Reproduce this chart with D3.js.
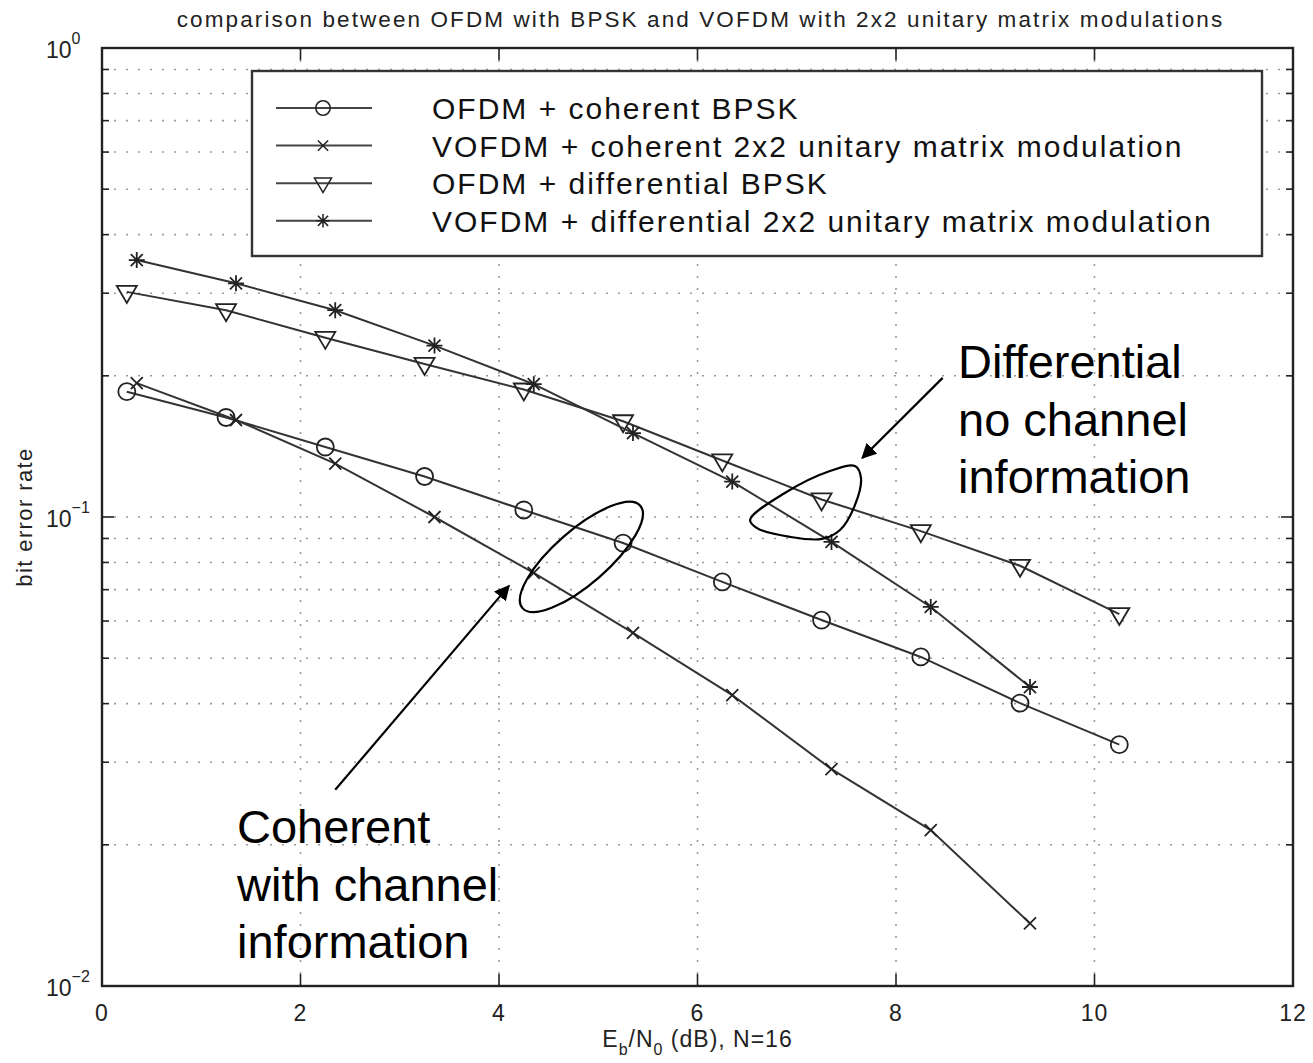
<!DOCTYPE html>
<html>
  <head>
    <title>OFDM vs VOFDM bit error rate</title>
    <script src="https://d3js.org/d3.v7.min.js"></script>
  </head>
  <style>
    body {
      margin: 0;
      background: #fff;
      font-family: 'Liberation Sans', Arial, Helvetica, sans-serif;
    }
    .grid line { stroke: #9a9a9a; stroke-width: 1.6; stroke-dasharray: 2,10; }
    .series path.line { fill: none; stroke: #333; stroke-width: 2; }
    .mark { fill: none; stroke: #222; stroke-width: 1.8; }
  </style>
  <body>
    <svg></svg>
    <script>

      // ---- data ----
      var snr_a = [0.25, 1.25, 2.25, 3.25, 4.25, 5.25, 6.25, 7.25, 8.25, 9.25, 10.25];
      var snr_b = [0.35, 1.35, 2.35, 3.35, 4.35, 5.35, 6.35, 7.35, 8.35, 9.35];

      var ofdmCoherent  = [0.185, 0.163, 0.141, 0.122, 0.1035, 0.088, 0.0727, 0.0603, 0.0503, 0.0401, 0.0327];
      var vofdmCoherent = [0.193, 0.161, 0.130, 0.100, 0.076, 0.0566, 0.0417, 0.0290, 0.0215, 0.0136];
      var ofdmDiff      = [0.302, 0.276, 0.241, 0.212, 0.187, 0.160, 0.132, 0.109, 0.0933, 0.0787, 0.0621];
      var vofdmDiff     = [0.353, 0.315, 0.276, 0.232, 0.192, 0.151, 0.119, 0.0885, 0.0643, 0.0434];

      var seriesNames = [
        'OFDM + coherent BPSK',
        'VOFDM + coherent 2x2 unitary matrix modulation',
        'OFDM + differential BPSK',
        'VOFDM + differential 2x2 unitary matrix modulation'
      ];
      var markerTypes = ['circle', 'cross', 'triangle', 'star'];

      var xTicks = [0, 2, 4, 6, 8, 10, 12];
      var yDecades = [1e-2, 1e-1, 1];
      var yExponents = ['0', '\u22121', '\u22122'];

      var titleText = 'comparison between OFDM with BPSK and VOFDM with 2x2 unitary matrix modulations';

      // annotation notes (data coordinates)
      var noteDiff = ['Differential', 'no channel', 'information'];
      var noteCoh = ['Coherent', 'with channel', 'information'];
      var arrowDiff = [[8.47, 0.198], [7.66, 0.1336]];
      var arrowCoh = [[2.35, 0.0262], [4.10, 0.0713]];
      var loopDiff = [[6.53, 0.0986], [6.88, 0.1125], [7.335, 0.1253], [7.587, 0.1284], [7.647, 0.1211],
                      [7.587, 0.1061], [7.436, 0.0938], [7.254, 0.0898], [6.932, 0.0907], [6.60, 0.0947]];
      var ellipseCoh = {cx: 4.83, cy: 0.0822};

      // ---- layout ----
      var width = 1313, height = 1063;
      var mLeft = 102, mRight = 1293, mTop = 48, mBottom = 986;

      var x = d3.scaleLinear().domain([0, 12]).range([mLeft, mRight]);
      var y = d3.scaleLog().domain([0.01, 1]).range([mBottom, mTop]);

      var svg = d3.select('svg')
        .attr('width', width)
        .attr('height', height);

      // grid
      var minor = [];
      [0.01, 0.1].forEach(function (d) {
        for (var k = 1; k <= 9; k++) minor.push(d * k);
      });
      var grid = svg.append('g').attr('class', 'grid');
      grid.selectAll('line.h')
        .data(minor.filter(function (d) { return d > 0.01; }))
        .enter().append('line')
        .attr('x1', mLeft).attr('x2', mRight)
        .attr('y1', function (d) { return y(d); })
        .attr('y2', function (d) { return y(d); });
      grid.selectAll('line.v')
        .data(xTicks.slice(1, -1))
        .enter().append('line')
        .attr('y1', mTop).attr('y2', mBottom)
        .attr('x1', function (d) { return x(d); })
        .attr('x2', function (d) { return x(d); });

      // axis frame + ticks (inside, on all four sides)
      var axes = svg.append('g').attr('stroke', '#222').attr('stroke-width', 1.6);
      xTicks.forEach(function (t) {
        axes.append('line').attr('x1', x(t)).attr('x2', x(t)).attr('y1', mBottom).attr('y2', mBottom - 12);
        axes.append('line').attr('x1', x(t)).attr('x2', x(t)).attr('y1', mTop).attr('y2', mTop + 12);
      });
      minor.concat([1]).forEach(function (t) {
        var len = yDecades.some(function (d) { return Math.abs(d - t) < 1e-9; }) ? 12 : 7;
        axes.append('line').attr('x1', mLeft).attr('x2', mLeft + len).attr('y1', y(t)).attr('y2', y(t));
        axes.append('line').attr('x1', mRight).attr('x2', mRight - len).attr('y1', y(t)).attr('y2', y(t));
      });
      svg.append('rect')
        .attr('x', mLeft).attr('y', mTop)
        .attr('width', mRight - mLeft).attr('height', mBottom - mTop)
        .attr('fill', 'none').attr('stroke', '#222').attr('stroke-width', 2.4);

      // tick labels
      svg.selectAll('text.xt')
        .data(xTicks)
        .enter().append('text')
        .attr('x', function (d) { return x(d); })
        .attr('y', mBottom + 35)
        .attr('text-anchor', 'middle')
        .attr('font-size', 23)
        .attr('letter-spacing', 1)
        .attr('fill', '#222')
        .text(function (d) { return d; });

      var yl = svg.selectAll('text.yt')
        .data([1, 0.1, 0.01])
        .enter().append('text')
        .attr('x', mLeft - 56)
        .attr('y', function (d) { return y(d) + 10; })
        .attr('font-size', 23)
        .attr('fill', '#222');
      yl.append('tspan').text('10');
      yl.append('tspan')
        .attr('dy', -14)
        .attr('font-size', 16)
        .text(function (d, i) { return yExponents[i]; });

      // title and axis labels
      svg.append('text')
        .attr('x', (mLeft + mRight) / 2 + 3)
        .attr('y', 27)
        .attr('text-anchor', 'middle')
        .attr('font-size', 22.5)
        .attr('letter-spacing', 2.1)
        .attr('fill', '#222')
        .text(titleText);

      svg.append('text')
        .attr('transform', 'translate(32,' + ((mTop + mBottom) / 2) + ')rotate(-90)')
        .attr('text-anchor', 'middle')
        .attr('font-size', 22)
        .attr('letter-spacing', 1.4)
        .attr('fill', '#222')
        .text('bit error rate');

      var xl = svg.append('text')
        .attr('x', (mLeft + mRight) / 2)
        .attr('y', 1047)
        .attr('text-anchor', 'middle')
        .attr('font-size', 23)
        .attr('letter-spacing', 1)
        .attr('fill', '#222');
      xl.append('tspan').text('E');
      xl.append('tspan').attr('dy', 8).attr('font-size', 16).text('b');
      xl.append('tspan').attr('dy', -8).text('/N');
      xl.append('tspan').attr('dy', 8).attr('font-size', 16).text('0');
      xl.append('tspan').attr('dy', -8).text(' (dB), N=16');

      // markers
      function markerPath(type) {
        var p = d3.path();
        if (type === 'circle') {
          p.moveTo(8.5, 0); p.arc(0, 0, 8.5, 0, 2 * Math.PI);
        } else if (type === 'cross') {
          p.moveTo(-6, -6); p.lineTo(6, 6); p.moveTo(-6, 6); p.lineTo(6, -6);
        } else if (type === 'triangle') {
          p.moveTo(-10, -6); p.lineTo(10, -6); p.lineTo(0, 11); p.closePath();
        } else {
          p.moveTo(-8, 0); p.lineTo(8, 0); p.moveTo(0, -8); p.lineTo(0, 8);
          p.moveTo(-6, -6); p.lineTo(6, 6); p.moveTo(-6, 6); p.lineTo(6, -6);
        }
        return p.toString();
      }

      var series = [
        {x: snr_a, v: ofdmCoherent},
        {x: snr_b, v: vofdmCoherent},
        {x: snr_a, v: ofdmDiff},
        {x: snr_b, v: vofdmDiff}
      ];

      var line = d3.line()
        .x(function (d) { return x(d[0]); })
        .y(function (d) { return y(d[1]); });

      series.forEach(function (s, i) {
        var pts = s.v.map(function (v, k) { return [s.x[k], v]; });
        var g = svg.append('g').attr('class', 'series');
        g.append('path').attr('class', 'line').attr('d', line(pts));
        g.selectAll('path.mark')
          .data(pts)
          .enter().append('path')
          .attr('class', 'mark')
          .attr('transform', function (d) { return 'translate(' + x(d[0]) + ',' + y(d[1]) + ')'; })
          .attr('d', markerPath(markerTypes[i]));
      });

      // legend
      var legend = svg.append('g').attr('transform', 'translate(252,71)');
      legend.append('rect')
        .attr('width', 1010).attr('height', 185)
        .attr('fill', '#fff').attr('stroke', '#333').attr('stroke-width', 2.4);
      var rows = legend.selectAll('g.row')
        .data(seriesNames)
        .enter().append('g')
        .attr('transform', function (d, i) { return 'translate(0,' + (37 + i * 37.6) + ')'; });
      rows.append('line')
        .attr('x1', 24).attr('x2', 120)
        .attr('stroke', '#444').attr('stroke-width', 2);
      rows.append('path')
        .attr('class', 'mark')
        .attr('transform', 'translate(71,0)scale(0.85)')
        .attr('d', function (d, i) { return markerPath(markerTypes[i]); });
      rows.append('text')
        .attr('x', 180)
        .attr('y', 11)
        .attr('font-size', 30)
        .attr('letter-spacing', 2)
        .attr('fill', '#111')
        .text(function (d) { return d; });

      // annotations
      var ann = svg.append('g').attr('fill', 'none').attr('stroke', '#000').attr('stroke-width', 2.2);

      svg.append('defs').append('marker')
        .attr('id', 'head')
        .attr('viewBox', '0 0 10 10')
        .attr('refX', 9).attr('refY', 5)
        .attr('markerWidth', 7).attr('markerHeight', 7)
        .attr('markerUnits', 'strokeWidth')
        .attr('orient', 'auto')
        .append('path').attr('d', 'M0,0L10,5L0,10Z').attr('fill', '#000').attr('stroke', 'none');

      [arrowDiff, arrowCoh].forEach(function (a) {
        ann.append('line')
          .attr('x1', x(a[0][0])).attr('y1', y(a[0][1]))
          .attr('x2', x(a[1][0])).attr('y2', y(a[1][1]))
          .attr('marker-end', 'url(#head)');
      });

      ann.append('path')
        .attr('d', d3.line()
          .x(function (d) { return x(d[0]); })
          .y(function (d) { return y(d[1]); })
          .curve(d3.curveCatmullRomClosed.alpha(0.5))(loopDiff));

      ann.append('ellipse')
        .attr('transform', 'translate(' + x(ellipseCoh.cx) + ',' + y(ellipseCoh.cy) + ')rotate(-41)')
        .attr('rx', 78).attr('ry', 27);

      function note(lines, x0, y0) {
        svg.append('g').selectAll('text')
          .data(lines)
          .enter().append('text')
          .attr('x', x0)
          .attr('y', function (d, i) { return y0 + i * 57.5; })
          .attr('font-size', 47)
          .attr('fill', '#000')
          .text(function (d) { return d; });
      }
      note(noteDiff, 958, 378);
      note(noteCoh, 237, 843);

    </script>
  </body>
</html>
